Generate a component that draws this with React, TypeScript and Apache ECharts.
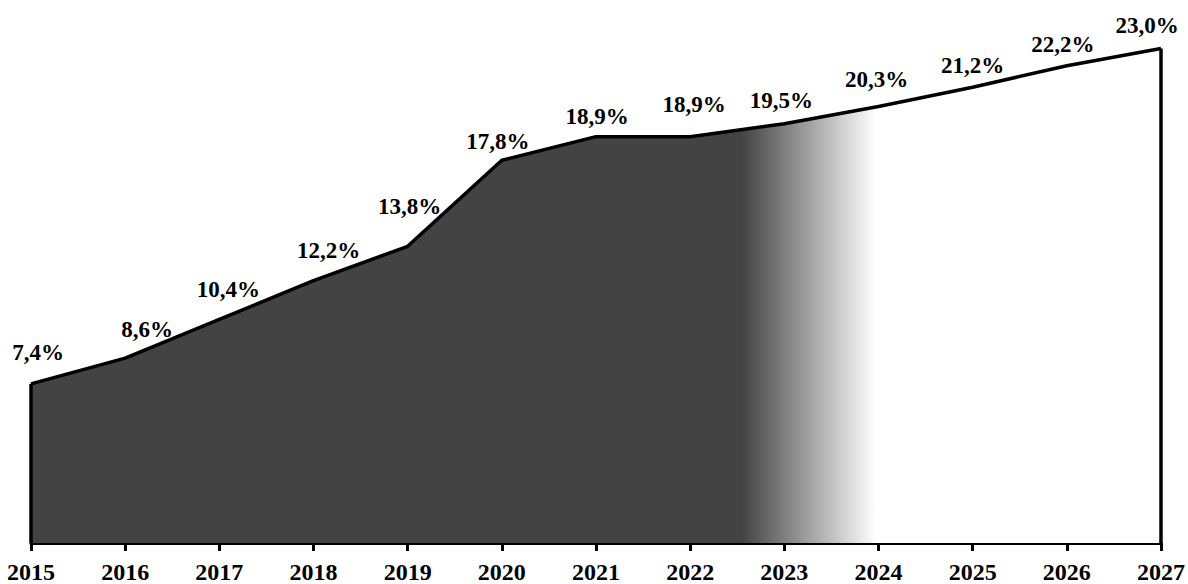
import React, { useEffect, useRef } from "react";
import * as echarts from "echarts";

const years = ["2015", "2016", "2017", "2018", "2019", "2020", "2021", "2022", "2023", "2024", "2025", "2026", "2027"];
const shares = [7.4, 8.6, 10.4, 12.2, 13.8, 17.8, 18.9, 18.9, 19.5, 20.3, 21.2, 22.2, 23.0];
// label nudges [dx, dy] in px, as placed in the reference
const labelOffsets = [
  [7, -20], [22, -17], [9, -18], [15, -19], [2, -28], [-4, -7], [1, -9],
  [4, -21], [-3, -12], [-2, -16], [0, -10], [-4, -10], [-14, -12],
];

const FONT = "Liberation Serif";

export default function App() {
  const ref = useRef<HTMLDivElement>(null);
  useEffect(() => {
    if (!ref.current) return;
    const chart = echarts.init(ref.current, undefined, { renderer: "svg" });
    const first = years[0];
    const last = years[years.length - 1];
    chart.setOption({
      animation: false,
      backgroundColor: "#ffffff",
      grid: { left: 31, right: 22, top: 5.5, bottom: 41, containLabel: false },
      xAxis: {
        type: "category",
        data: years,
        boundaryGap: false,
        axisLine: { show: true, lineStyle: { color: "#000", width: 3 } },
        axisTick: { show: true, length: 8, lineStyle: { color: "#000", width: 3 } },
        axisLabel: {
          color: "#000",
          fontFamily: FONT,
          fontWeight: "bold",
          fontSize: 24,
          margin: 17,
          showMaxLabel: true,
          showMinLabel: true,
          interval: 0,
        },
        splitLine: { show: false },
      },
      yAxis: { type: "value", min: 0, max: 25, show: false, splitLine: { show: false } },
      series: [
        {
          type: "line",
          data: shares,
          smooth: false,
          symbol: "circle",
          symbolSize: 0,
          showSymbol: true,
          showAllSymbol: true,
          lineStyle: { color: "#000", width: 3.5 },
          itemStyle: { color: "#000" },
          areaStyle: {
            opacity: 1,
            color: new echarts.graphic.LinearGradient(0, 0, 1, 0, [
              { offset: 0, color: "#434343" },
              { offset: 0.629, color: "#434343" },
              { offset: 0.748, color: "#ffffff" },
              { offset: 1, color: "#ffffff" },
            ]),
          },
          label: {
            show: true,
            position: "top",
            distance: 0,
            color: "#000",
            fontFamily: FONT,
            fontWeight: "bold",
            fontSize: 23,
            formatter: (p: any) => Number(p.value).toFixed(1).replace(".", ",") + "%",
          },
          labelLayout: (params: any) => {
            const o = labelOffsets[params.dataIndex] || [0, 0];
            return { dx: o[0], dy: o[1], moveOverlap: false, hideOverlap: false };
          },
          markLine: {
            silent: true,
            symbol: "none",
            label: { show: false },
            lineStyle: { color: "#000", width: 3.5, type: "solid" },
            data: [
              [{ coord: [first, 0] }, { coord: [first, shares[0]] }],
              [{ coord: [last, 0] }, { coord: [last, shares[shares.length - 1]] }],
            ],
          },
        },
      ],
    });
    return () => chart.dispose();
  }, []);
  return <div ref={ref} style={{ position: "fixed", left: 0, top: 0, width: 1188, height: 584 }} />;
}
